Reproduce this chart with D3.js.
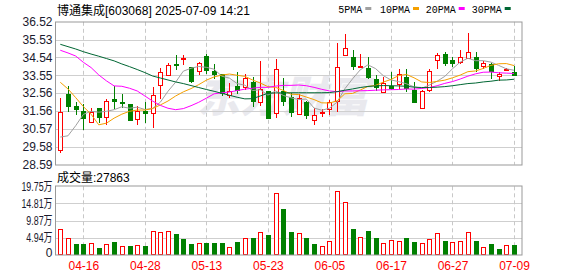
<!DOCTYPE html>
<html><head><meta charset="utf-8">
<script src="https://cdn.jsdelivr.net/npm/d3@7/dist/d3.min.js"></script>
<style>body{margin:0;background:#fff}svg{display:block}</style>
</head><body><svg id="c" width="578" height="276"></svg>
<script>
const dates = ["04-11","04-14","04-15","04-16","04-17","04-18","04-21","04-22","04-23","04-24","04-25","04-28","04-29","04-30",
"05-06","05-07","05-08","05-09","05-12","05-13","05-14","05-15","05-16","05-19","05-20","05-21","05-22","05-23","05-26","05-27","05-28","05-29","05-30",
"06-03","06-04","06-05","06-06","06-09","06-10","06-11","06-12","06-13","06-16","06-17","06-18","06-19","06-20","06-23","06-24","06-25","06-26","06-27","06-30",
"07-01","07-02","07-03","07-04","07-07","07-08","07-09"];
const open  = [29.39,32.52,31.85,31.57,30.98,31.72,31.22,32.26,32.09,31.94,31.11,31.56,31.44,33.00,33.55,34.16,34.46,33.99,33.79,34.62,
33.79,33.61,32.46,32.96,32.89,33.20,32.05,32.68,31.44,32.68,32.37,31.39,32.04,31.07,31.43,31.67,32.13,34.68,34.57,34.01,
33.98,33.33,32.63,32.96,33.05,33.48,32.74,31.72,32.74,34.38,34.72,34.42,34.29,34.49,34.55,34.05,34.18,33.53,33.85,33.72];
const close = [31.50,31.85,31.70,31.20,31.50,31.26,32.11,32.11,32.04,31.09,31.57,31.43,32.44,33.72,34.12,34.12,34.49,33.26,34.22,33.85,
33.61,32.55,32.70,32.74,33.39,32.13,32.79,31.20,33.88,32.13,31.50,32.31,31.35,31.35,31.52,32.09,33.99,35.05,34.09,34.05,
33.48,32.92,33.11,32.87,33.61,32.87,32.09,32.70,33.77,34.66,34.22,34.22,34.55,34.83,33.98,34.24,33.81,33.63,33.88,33.57];
const high  = [32.28,32.96,32.09,31.94,31.72,31.74,32.24,32.94,32.52,31.94,31.87,32.04,32.89,33.98,34.25,34.68,34.70,34.01,34.27,34.73,
34.20,33.61,33.11,33.76,33.61,33.44,34.35,32.68,34.44,33.39,32.59,32.50,32.13,31.76,31.67,32.18,35.36,35.84,34.96,34.72,
34.55,33.57,33.44,33.76,33.88,33.88,33.15,32.74,33.88,34.81,34.86,34.57,34.96,35.92,34.83,34.35,34.25,33.72,33.98,34.07];
const low   = [29.28,31.59,31.41,30.59,30.93,30.98,30.87,31.72,31.78,31.04,30.87,30.93,30.70,32.31,33.55,33.88,34.18,33.20,33.61,33.66,
33.42,32.46,32.33,32.55,32.78,31.85,31.89,31.20,31.26,31.91,31.31,31.39,31.17,30.85,31.31,31.39,31.59,34.68,33.88,34.01,
33.39,32.74,32.63,32.79,32.87,32.70,32.09,31.72,32.70,33.94,34.14,34.09,34.25,34.49,33.81,33.98,33.42,33.29,33.85,33.57];
const ma5  = [30.12,30.19,30.75,31.38,31.55,31.50,31.55,31.64,31.80,31.72,31.78,31.65,31.71,32.05,32.66,33.17,33.78,33.94,34.04,33.99,
33.89,33.50,33.39,33.09,33.00,32.70,32.75,32.45,32.68,32.43,32.30,32.20,32.23,31.73,31.61,31.72,32.06,32.80,33.35,33.85,
34.13,33.92,33.53,33.29,33.20,33.08,32.91,32.83,33.01,33.22,33.49,33.91,34.28,34.50,34.36,34.36,34.28,34.10,33.91,33.83];
const ma10 = [33.16,32.79,32.31,31.81,31.39,30.80,30.89,31.17,31.39,31.55,31.62,31.62,31.70,31.90,32.12,32.40,32.63,32.81,33.03,33.28,
33.46,33.56,33.62,33.55,33.49,33.29,33.12,32.92,32.88,32.71,32.50,32.48,32.34,32.20,32.02,32.01,32.13,32.52,32.54,32.73,
32.93,32.99,33.17,33.32,33.53,33.60,33.41,33.18,33.15,33.21,33.28,33.41,33.56,33.75,33.79,33.93,34.10,34.19,34.20,34.09];
const ma20 = [34.94,34.79,34.62,34.27,33.98,33.57,33.24,32.96,32.94,32.83,32.68,32.40,32.12,31.88,31.72,31.64,31.70,31.86,32.05,32.28,
32.52,32.58,32.62,32.70,32.78,32.83,32.88,32.88,32.95,32.99,32.99,33.01,32.97,32.88,32.77,32.68,32.64,32.68,32.68,32.69,
32.70,32.72,32.74,32.75,32.76,32.79,32.78,32.82,32.87,32.97,33.10,33.20,33.34,33.50,33.63,33.72,33.73,33.69,33.67,33.65];
const ma30 = [35.27,35.14,35.01,34.86,34.73,34.61,34.48,34.35,34.18,34.03,33.87,33.70,33.51,33.40,33.29,33.18,33.09,32.98,32.87,32.76,
32.66,32.55,32.44,32.33,32.24,32.25,32.40,32.55,32.57,32.57,32.58,32.58,32.58,32.58,32.58,32.59,32.64,32.72,32.79,32.87,
32.93,32.96,32.98,32.97,32.96,32.94,32.89,32.87,32.87,32.89,32.92,32.97,33.03,33.09,33.12,33.18,33.22,33.28,33.29,33.33];
const volume = [7.48,4.80,3.16,3.16,3.45,2.01,3.16,3.83,2.49,2.59,2.88,2.59,6.90,6.61,6.90,6.13,4.60,3.16,3.45,3.35,
3.45,3.45,2.30,3.74,4.89,4.89,6.61,5.75,17.83,13.23,6.61,6.33,4.89,3.16,2.59,4.03,18.40,15.24,7.48,5.18,
6.90,4.89,3.45,4.31,4.03,4.89,3.74,3.45,4.60,6.33,4.03,3.74,4.03,6.61,4.03,2.30,3.16,1.73,2.88,2.79];
const volUp = [1,1,0,0,1,0,1,0,1,0,1,0,1,1,1,0,0,0,1,0,0,0,1,0,1,0,1,0,1,0,
0,1,0,0,1,1,1,1,0,1,0,0,1,1,1,0,0,1,1,1,0,1,1,1,0,1,0,0,1,0];
const priceTicks = [36.52,35.53,34.54,33.55,32.56,31.56,30.57,29.58,28.59];
const volTicks = [19.75,14.81,9.87,4.94,0];
const xTicks = ["04-16","04-28","05-13","05-23","06-05","06-17","06-27","07-09"];
const maNames = ["5PMA","10PMA","20PMA","30PMA"];
const maColors = ["#a0a0a0","#f5a000","#ff00ff","#006633"];
const stockName = "博通集成", stockInfo = "[603068] 2025-07-09 14:21";
const volLabel = "成交量", lastVol = 27863;

const svg = d3.select("#c");
const L = 55.5, R = 522, T = 21.8, B = 164.6, VT = 186.3, VB = 255;
const RED = "#ff0000", GRN = "#008000";
const x = d3.scalePoint().domain(dates).range([60.3, 514]);
const y = d3.scaleLinear().domain([28.59, 36.52]).range([B, T]);
const yv = d3.scaleLinear().domain([0, 19.75]).range([VB, VT]);
const px = v => Math.round(v) + 0.5;
const FONT = "'Liberation Sans', Arial, 'Noto Sans CJK SC', sans-serif";

svg.append("rect").attr("width", 578).attr("height", 276).attr("fill", "#fff");

// watermark
svg.append("text").attr("x", 197).attr("y", 112).text("东方财富")
  .attr("font-family", "'Noto Sans CJK SC'").attr("font-weight", 900).attr("font-style", "italic")
  .attr("font-size", 43).attr("fill", "#e9e9ee");

// grids
const grid = svg.append("g");
priceTicks.slice(1, -1).forEach(t => grid.append("line").attr("x1", L).attr("x2", R)
  .attr("y1", px(y(t))).attr("y2", px(y(t))).attr("stroke", "#cfcfcf"));
volTicks.slice(1, -1).forEach(t => grid.append("line").attr("x1", L).attr("x2", R)
  .attr("y1", px(yv(t))).attr("y2", px(yv(t))).attr("stroke", "#cfcfcf"));
xTicks.forEach(d => {
  [[T, B], [VT, VB]].forEach(([a, b]) => grid.append("line").attr("x1", px(x(d))).attr("x2", px(x(d)))
    .attr("y1", a).attr("y2", b).attr("stroke", "#c8c8c8").attr("stroke-dasharray", "4,3"));
});

// candles
const cg = svg.append("g");
dates.forEach((d, i) => {
  const cx = Math.round(x(d));
  const up = close[i] >= open[i];
  const col = up ? RED : GRN;
  cg.append("line").attr("x1", cx + 0.5).attr("x2", cx + 0.5)
    .attr("y1", Math.round(y(high[i]))).attr("y2", Math.round(y(low[i])) + 1).attr("stroke", col);
  const t = Math.round(y(Math.max(open[i], close[i]))), b = Math.round(y(Math.min(open[i], close[i])));
  if (up) {
    cg.append("rect").attr("x", cx - 1.5).attr("y", t + 0.5).attr("width", 4).attr("height", Math.max(b - t, 1))
      .attr("fill", "#fff").attr("stroke", RED);
  } else {
    cg.append("rect").attr("x", cx - 2).attr("y", t).attr("width", 5).attr("height", Math.max(b - t, 1) + 1)
      .attr("fill", GRN);
  }
});

// MA lines
[ma5, ma10, ma20, ma30].forEach((arr, k) => {
  svg.append("path").datum(arr)
    .attr("d", d3.line().x((v, i) => x(dates[i])).y(v => y(v)))
    .attr("fill", "none").attr("stroke", maColors[k]).attr("stroke-width", 1);
});

// volume bars
const vg = svg.append("g");
dates.forEach((d, i) => {
  const cx = Math.round(x(d));
  const t = Math.round(yv(volume[i]));
  if (volUp[i]) {
    vg.append("rect").attr("x", cx - 1.5).attr("y", t + 0.5).attr("width", 4).attr("height", VB - t - 1)
      .attr("fill", "#fff").attr("stroke", RED);
  } else {
    vg.append("rect").attr("x", cx - 2).attr("y", t).attr("width", 5).attr("height", VB - t)
      .attr("fill", GRN);
  }
});

// frames
svg.append("rect").attr("x", L).attr("y", px(T) - 0.5).attr("width", R - L).attr("height", px(B) - px(T))
  .attr("fill", "none").attr("stroke", "#999");
svg.append("rect").attr("x", L).attr("y", px(VT) - 0.5).attr("width", R - L).attr("height", px(VB) - px(VT))
  .attr("fill", "none").attr("stroke", "#999");

// price axis
const pa = svg.append("g").attr("transform", `translate(${L},0)`)
  .call(d3.axisLeft(y).tickValues(priceTicks).tickFormat(d3.format(".2f")).tickSize(0).tickPadding(3));
pa.select(".domain").remove();
pa.selectAll("text").attr("font-family", FONT).attr("font-size", 12).attr("fill", "#1a1a2e");

// volume axis (labels squeezed horizontally like the original)
const va = svg.append("g").attr("transform", `translate(${L},0)`)
  .call(d3.axisLeft(yv).tickValues(volTicks).tickFormat(v => v === 0 ? "0" : d3.format(".2f")(v) + "万").tickSize(0).tickPadding(3));
va.select(".domain").remove();
va.selectAll("text").attr("font-family", FONT).attr("font-size", 12).attr("fill", "#1a1a2e")
  .each(function (v) {
    const s = d3.select(this);
    if (v !== 0) {
      const w = this.getComputedTextLength();
      s.attr("textLength", (w * 0.74).toFixed(1)).attr("lengthAdjust", "spacingAndGlyphs");
    } else {
      s.attr("dy", "0.15em");
    }
  });

// x axis
const xa = svg.append("g").attr("transform", `translate(0,${VB})`)
  .call(d3.axisBottom(x).tickValues(xTicks).tickSize(0).tickPadding(6));
xa.select(".domain").remove();
xa.selectAll("text").attr("font-family", FONT).attr("font-size", 12).attr("fill", RED);

// title
const tt = svg.append("text").attr("x", 57).attr("y", 14.5).attr("font-family", FONT).attr("font-size", 12).attr("fill", "#000");
tt.append("tspan").attr("font-family", "'Noto Sans CJK SC'").text(stockName);
tt.append("tspan").text(stockInfo);

// volume label
const vt = svg.append("text").attr("x", 57).attr("y", 181.5).attr("font-family", FONT).attr("font-size", 12).attr("fill", "#000");
vt.append("tspan").attr("font-family", "'Noto Sans CJK SC'").text(volLabel);
vt.append("tspan").text(":" + lastVol);

// legend
const lgX = [338.3, 380, 425.7, 471.7];
maNames.forEach((n, k) => {
  svg.append("text").attr("x", lgX[k]).attr("y", 12.5).attr("font-family", "'Liberation Mono', monospace")
    .attr("font-size", 10).attr("fill", "#000").text(n);
  const w = n.length * 6;
  svg.append("rect").attr("x", lgX[k] + w + 3).attr("y", 7).attr("width", 6).attr("height", 3).attr("fill", maColors[k]);
});
</script></body></html>
